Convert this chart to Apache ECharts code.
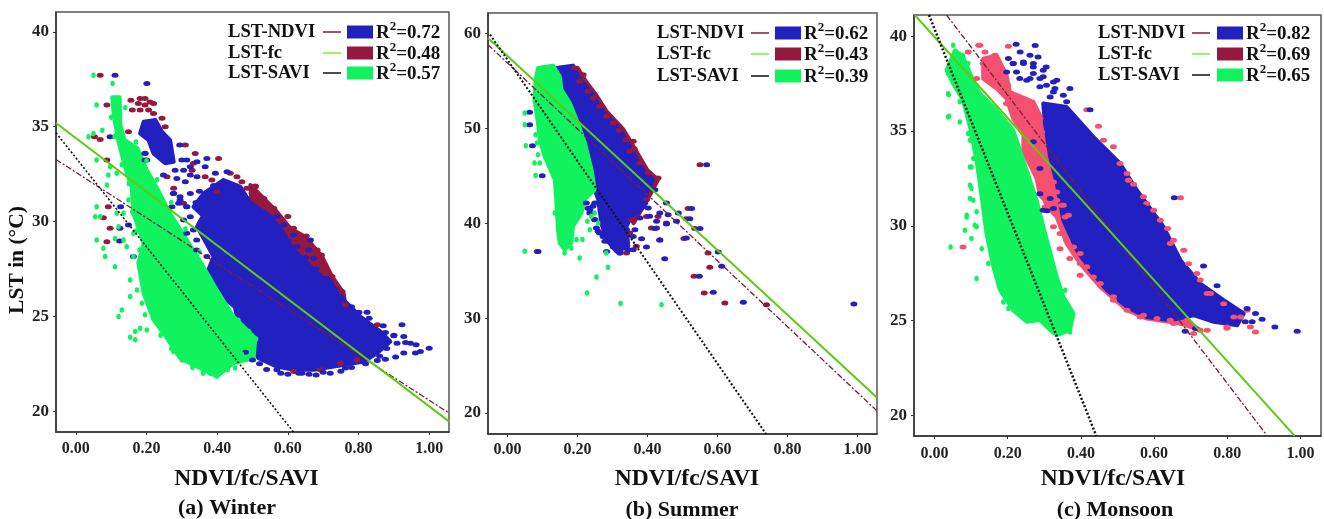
<!DOCTYPE html>
<html><head><meta charset="utf-8">
<style>html,body{margin:0;padding:0;background:#fff}#c{width:1324px;height:519px}</style>
<script src="https://cdn.jsdelivr.net/npm/echarts@6/dist/echarts.min.js"></script>
</head><body><div id="c"></div>
<script>
const xTicks=[0,0.2,0.4,0.6,0.8,1.0];
const winterYTicks=[20,25,30,35,40];
const summerYTicks=[20,30,40,50,60];
const monsoonYTicks=[20,25,30,35,40];
const captions=['(a) Winter','(b) Summer','(c) Monsoon'];
const legendNames=['LST-NDVI','LST-fc','LST-SAVI'];
const winterR2=['0.72','0.48','0.57'];
const summerR2=['0.62','0.43','0.39'];
const monsoonR2=['0.82','0.69','0.65'];

// ---------- Winter ----------
const winterNdviLine=[[-0.056,33.27],[1.056,19.9]];
const winterFcLine=[[-0.056,35.2],[1.056,19.46]];
const winterSaviLine=[[-0.056,34.68],[0.616,18.9]];
const winterNdviBody=[[.192,35.26],[.225,35.35],[.244,34.73],[.267,34.29],[.277,33.15],[.253,33.07],[.22,33.59],[.206,34.29],[.182,34.65]];
const winterNdviBody2=[[.333,30.78],[.362,31.48],[.418,32.19],[.465,31.84],[.494,31.0],[.55,30.3],[.588,29.38],[.617,28.5],[.673,27.45],[.73,26.57],[.758,25.87],[.805,24.99],[.862,24.2],[.89,23.67],[.853,23.06],[.815,22.62],[.73,22.35],[.673,22.18],[.617,22.18],[.569,22.35],[.517,22.79],[.46,24.6],[.45,25.5],[.39,26.4],[.375,27.44],[.39,28.15],[.365,29.0],[.343,29.73],[.36,30.3]];
const winterNdviDots=[[.111,37.72],[.201,37.28],[.294,34.03],[.3,33.24],[.314,33.24],[.281,32.71],[.305,32.71],[.324,32.89],[.343,33.15],[.371,33.33],[.366,32.89],[.324,32.45],[.343,32.36],[.286,32.27],[.31,32.1],[.277,31.48],[.295,31.31],[.324,31.48],[.291,30.96],[.314,30.78],[.248,32.45],[.201,33.24],[.196,33.59],[.395,32.54],[.428,32.63],[.824,25.22],[.801,25.22],[.923,24.55],[.876,24.15],[.9,23.97],[.928,23.94],[.933,23.62],[.909,23.58],[.947,23.58],[.963,23.5],[1.0,23.32],[.975,23.14],[.961,23.06],[.928,23.06],[.905,22.85],[.876,22.74],[.853,22.67],[.763,22.27],[.631,22.0],[.569,22.18],[.659,28.5],[.673,28.06],[.626,28.68],[.588,29.82],[.569,30.26],[.711,27.01],[.616,29.29],[.664,29.03],[.097,34.47],[.127,30.78],[.125,29.64],[.124,28.97],[.149,29.82],[.163,28.15],[.196,33.6],[.196,33.24],[.314,29.38],[.342,29.03],[.342,28.5],[.314,30.78],[.295,31.13],[.276,31.48],[.272,30.78],[.324,30.25],[.305,30.08],[.333,29.55],[.361,29.38],[.371,28.15],[.52,22.5],[.54,22.2],[.6,21.95],[.64,22.0],[.66,21.95],[.72,22.0],[.75,22.1],[.48,23.1],[.5,22.7],[.58,22.0],[.68,21.9],[.7,22.05],[.78,22.3],[.82,22.5],[.86,22.9],[.88,23.3],[.9,24.0],[.87,24.5],[.83,24.9],[.78,25.5],[.75,26.0],[.72,26.8],[.68,27.5],[.65,28.1],[.6,29.0],[.57,29.6],[.53,30.3],[.5,30.8],[.45,31.6],[.42,32.0],[.39,31.9],[.35,31.6],[.34,31.0]];
const winterFcBody=[[.494,31.93],[.532,31.22],[.569,30.52],[.607,29.64],[.649,29.2],[.697,28.15],[.725,27.1],[.758,26.22],[.763,25.52],[.7,26.7],[.6,28],[.5,30]];
const winterFcDots=[[.069,37.72],[.182,36.49],[.196,36.49],[.21,36.31],[.177,36.23],[.196,36.14],[.22,36.23],[.182,35.88],[.206,35.88],[.156,36.4],[.16,35.88],[.149,34.73],[.244,35.44],[.22,35.7],[.253,35.0],[.31,34.03],[.338,33.59],[.404,33.33],[.333,33.07],[.329,32.71],[.385,32.19],[.437,32.54],[.456,32.36],[.47,32.1],[.508,31.84],[.484,31.75],[.513,31.31],[.399,31.57],[.366,32.36],[.305,30.96],[.277,31.75],[.258,32.36],[.508,31.87],[.499,31.49],[.532,31.22],[.56,30.7],[.6,30.26],[.616,29.64],[.652,29.24],[.635,29.03],[.683,28.5],[.695,28.24],[.703,27.71],[.725,27.1],[.753,26.31],[.763,25.6],[.749,22.53],[.617,22.09],[.692,22.18],[.796,22.71],[.853,24.55],[.088,36.14],[.069,34.33],[.053,34.47],[.088,33.24],[.092,30.78],[.078,30.2],[.088,28.94],[.097,29.64]];
const winterSaviBody=[[.103,36.55],[.124,36.55],[.126,35.1],[.138,34.3],[.175,33.85],[.201,32.71],[.229,31.8],[.267,30.4],[.314,29.03],[.361,27.62],[.399,26.39],[.446,24.99],[.508,23.85],[.503,22.79],[.446,22.53],[.399,21.83],[.361,22.18],[.295,22.79],[.258,23.85],[.22,24.81],[.192,26.22],[.177,27.8],[.192,28.85],[.163,30.43],[.158,31.8],[.139,32.9],[.12,34.29],[.108,35.52]];
const winterSaviDots=[[.05,37.72],[.104,37.28],[.059,36.14],[.036,34.47],[.05,34.64],[.075,34.82],[.059,33.24],[.092,32.45],[.088,31.92],[.059,30.78],[.055,30.25],[.069,30.25],[.059,29.03],[.078,28.59],[.083,28.15],[.111,27.62],[.154,26.92],[.173,26.39],[.154,26.04],[.187,25.69],[.196,25.08],[.13,25.34],[.121,24.99],[.182,24.37],[.201,24.28],[.168,24.2],[.154,23.9],[.168,23.76],[.111,29.11],[.135,29.03],[.144,28.67],[.163,28.15],[.116,30.43],[.163,29.38],[.276,23.14],[.451,22.27],[.097,32.89],[.116,32.54],[.149,31.13],[.135,30.43],[.121,29.73],[.158,32.89],[.149,33.77],[.163,32.19],[.47,23.0],[.5,23.2],[.51,23.8],[.49,24.2],[.46,24.8],[.42,25.6],[.38,22.0],[.4,21.85],[.36,22.0],[.33,22.3],[.3,22.7],[.27,23.3],[.24,24.0],[.43,22.2],[.46,22.6],[.2,26.5],[.19,27.5],[.18,28.5],[.17,29.5],[.16,30.5],[.15,32],[.13,33],[.11,34.5],[.1,35.5],[.14,36.0],[.17,34.2],[.2,33.2],[.23,32.2],[.27,31],[.31,29.6],[.35,28.4]];

// ---------- Summer ----------
const summerNdviLine=[[-0.056,58.84],[1.055,20.25]];
const summerFcLine=[[-0.056,59.54],[1.055,21.65]];
const summerSaviLine=[[-0.05,59.9],[0.739,17.78]];
const summerNdviBody=[[.139,56.38],[.187,56.63],[.211,54.97],[.24,53.74],[.273,51.81],[.321,49.88],[.349,48.12],[.387,45.66],[.416,44.6],[.397,43.2],[.392,41.79],[.354,40.73],[.34,39.68],[.345,37.57],[.311,37.04],[.283,38.27],[.268,40.0],[.259,42.49],[.249,43.55],[.24,45.66],[.221,48.47],[.201,50.58],[.178,52.69],[.154,54.1]];
const summerNdviDots=[[.569,46.18],[.063,51.7],[.063,50.4],[.071,48.19],[.099,45.02],[.087,37.04],[.526,41.55],[.521,40.49],[.488,41.09],[.483,40.21],[.55,39.44],[.511,38.45],[.454,42.14],[.459,40.91],[.435,41.09],[.426,40.21],[.454,39.93],[.421,39.44],[.435,38.21],[.449,36.27],[.406,40.74],[.383,38.38],[.397,37.5],[.548,34.41],[.588,32.72],[.602,36.98],[.612,35.47],[.674,31.67],[.99,31.5],[.263,38.98],[.278,38.1],[.302,37.5],[.321,36.87],[.344,37.22],[.359,37.22],[.34,39.33],[.249,42.14],[.235,41.44],[.249,40.39],[.225,42.14],[.235,41.09],[.249,40.38],[.259,39.15],[.273,38.62],[.287,38.1],[.283,37.04],[.244,41.79],[.268,41.26],[.254,39.5],[.23,41.6],[.321,37.04],[.302,38.98],[.406,43.72],[.421,43.55],[.392,42.14],[.402,41.61],[.368,41.09],[.378,40.56],[.364,39.33],[.359,38.62]];
const summerFcBody=[[.2,56.4],[.225,54.9],[.25,53.7],[.283,51.8],[.331,49.9],[.36,48.1],[.4,45.6],[.43,44.6],[.4,42.5],[.36,40],[.3,45],[.2,52]];
const summerFcDots=[[.192,56.38],[.216,55.68],[.206,54.97],[.23,53.92],[.246,53.22],[.263,52.34],[.283,51.28],[.302,50.58],[.319,49.81],[.338,48.82],[.359,48.65],[.362,47.87],[.349,47.59],[.378,46.36],[.402,45.3],[.43,44.78],[.55,46.18],[.397,42.49],[.354,40.38],[.349,38.98],[.34,36.87],[.368,37.57],[.321,36.87],[.43,40.73],[.426,39.5],[.454,40.03],[.397,40.73],[.411,39.5],[.435,38.27],[.516,41.55],[.511,40.49],[.535,39.44],[.504,38.4],[.533,34.41],[.562,32.65],[.573,36.87],[.578,35.36],[.621,31.6],[.74,31.42],[.085,37.04]];
const summerSaviBody=[[.087,56.38],[.13,56.63],[.149,55.5],[.154,54.1],[.178,52.69],[.201,50.58],[.221,48.47],[.24,45.66],[.249,43.55],[.22,42.49],[.211,41.09],[.187,39.68],[.182,37.92],[.163,37.22],[.149,37.92],[.144,39.33],[.139,42.49],[.135,44.6],[.106,47.06],[.092,48.82],[.087,50.58],[.077,53.04],[.08,55.15]];
const summerSaviDots=[[.049,51.63],[.049,50.4],[.052,48.19],[.08,49.35],[.084,48.47],[.087,47.24],[.077,46.36],[.092,46.36],[.08,45.03],[.135,41.09],[.197,38.28],[.214,38.28],[.206,36.34],[.228,40.21],[.249,41.09],[.259,40.04],[.282,36.87],[.287,35.36],[.254,34.34],[.227,32.65],[.323,31.53],[.44,31.42],[.049,37.05],[.163,36.87],[.182,37.4],[.235,39.33],[.239,40.74]];

// ---------- Monsoon ----------
const monsoonNdviLine=[[0.033,41.12],[0.909,18.93]];
const monsoonFcLine=[[-0.054,41.12],[0.984,18.93]];
const monsoonSaviLine=[[-0.015,41.12],[0.442,18.93]];
const monsoonNdviBody=[[.297,36.45],[.361,36.27],[.434,34.69],[.507,33.29],[.553,31.88],[.626,29.95],[.672,28.19],[.726,26.96],[.79,26.08],[.845,25.38],[.827,24.76],[.763,24.94],[.708,25.29],[.644,25.02],[.58,25.2],[.526,25.73],[.471,26.61],[.425,27.66],[.389,28.72],[.352,30.3],[.334,32.23],[.316,33.64],[.302,35.4]];
const monsoonNdviDots=[[.223,39.58],[.275,39.51],[.202,38.82],[.234,39.17],[.261,39.0],[.283,38.91],[.305,38.38],[.215,38.56],[.243,38.56],[.27,38.56],[.197,38.12],[.224,38.12],[.27,38.03],[.297,37.86],[.334,37.68],[.37,37.24],[.329,37.24],[.352,36.89],[.252,37.68],[.288,37.33],[.316,36.8],[.425,36.13],[.655,31.48],[.991,24.44],[.93,24.67],[.895,25.08],[.877,25.38],[.854,25.64],[.849,24.94],[.868,24.94],[.735,27.89],[.772,26.84],[.685,24.44],[.713,24.59],[.288,31.7],[.307,30.8],[.571,31.0],[.27,34.43],[.288,33.02],[.316,31.44],[.297,30.82],[.325,30.91],[.243,38.64],[.27,38.38],[.297,38.2],[.325,37.59],[.261,37.77],[.233,37.77],[.215,38.56],[.288,37.77],[.325,37.06],[.306,37.41],[.361,36.54]];
const monsoonFcBody=[[.133,38.82],[.17,38.99],[.197,37.94],[.206,37.06],[.27,36.54],[.316,34.78],[.361,32.14],[.398,29.5],[.334,30.74],[.288,31.61],[.279,32.5],[.243,33.9],[.243,34.78],[.215,35.66],[.197,36.71],[.17,37.24],[.133,37.77]];
const monsoonFcBody2=[[.297,33.11],[.343,32.76],[.37,31.35],[.398,29.24],[.471,27.14],[.544,25.73],[.672,25.2],[.726,24.5],[.672,24.85],[.58,25.11],[.526,25.55],[.453,26.78],[.398,28.01],[.361,29.07],[.334,30.47],[.307,31.0],[.288,32.06],[.27,32.93]];
const monsoonFcDots=[[.202,39.47],[.121,39.53],[.092,39.17],[.138,39.17],[.165,39.0],[.416,36.13],[.078,28.89],[.672,31.48],[.877,24.41],[.863,24.67],[.799,24.67],[.745,24.5],[.708,24.32],[.676,24.85],[.644,25.02],[.571,25.29],[.398,27.4],[.37,28.28],[.343,28.8],[.448,35.25],[.599,30.83],[.637,29.86],[.644,29.07],[.681,28.72],[.717,27.49],[.745,26.43],[.836,25.2],[.854,25.55],[.398,28.54],[.434,27.31],[.489,26.26],[.544,32.2],[.58,31.18],[.526,32.76],[.489,34.17],[.507,33.29],[.124,39.52],[.142,38.47],[.174,37.41],[.2,37.41],[.197,36.45],[.233,35.83],[.261,35.13],[.288,33.02],[.297,31.61],[.316,31.09],[.352,31.09],[.357,30.47],[.224,36.36],[.133,38.56],[.151,38.29],[.165,37.94],[.138,38.12],[.115,37.77],[.183,37.5],[.211,36.8],[.233,36.71],[.247,36.36],[.275,36.01],[.288,35.66],[.252,35.66],[.238,35.92],[.265,35.3],[.293,34.95],[.247,34.07],[.261,33.72],[.279,33.55],[.297,32.67],[.325,32.32],[.334,31.79],[.306,31.97],[.348,31.09],[.366,30.56],[.334,31.35],[.307,31.53],[.302,31.0],[.325,29.95],[.343,29.6],[.361,29.24],[.38,28.89],[.398,28.01],[.416,27.84],[.453,26.96],[.489,26.08],[.526,25.55],[.562,25.2],[.608,25.11],[.653,24.85],[.69,25.03],[.726,24.5],[.799,24.6],[.818,25.2],[.462,34.52],[.53,32.4],[.571,31.53],[.617,30.3],[.653,29.24],[.694,28.0],[.726,27.14],[.754,26.43],[.79,25.9]];
const monsoonSaviBody=[[.033,38.21],[.056,39.26],[.078,38.91],[.097,38.03],[.124,36.98],[.17,36.1],[.215,35.04],[.252,32.93],[.279,31.35],[.307,29.24],[.334,27.31],[.352,26.26],[.38,25.38],[.37,24.5],[.334,24.24],[.316,24.5],[.288,25.03],[.252,24.94],[.215,25.55],[.179,26.61],[.161,27.84],[.142,29.6],[.129,31.53],[.115,33.46],[.097,35.22],[.078,36.63],[.051,37.5]];
const monsoonSaviDots=[[.039,36.92],[.04,35.78],[.044,28.89],[.115,27.22],[.101,33.11],[.097,32.14],[.106,31.35],[.088,30.47],[.115,29.95],[.101,29.33],[.129,28.8],[.147,28.01],[.188,25.99],[.202,25.64],[.357,26.61],[.37,24.41],[.097,34.52],[.092,34.87],[.037,38.03],[.051,39.52],[.078,38.99],[.092,38.56],[.06,37.77],[.069,36.54],[.037,36.97],[.037,35.74],[.069,35.48],[.101,34.78],[.097,33.11],[.106,33.55],[.101,31.97],[.097,31.44],[.088,30.56],[.115,30.74],[.11,30.03],[.083,29.77]];

const SERIF='"Liberation Serif","Times New Roman",serif';
const BLUE='#2320c0',MAROON='#96183e',PINK='#f4506f',GREEN='#10f25e';
const LINE_NDVI='#7a1c3c',LINE_FC='#5ccb12',LINE_SAVI='#111';

const panels=[
 {grid:{left:56,top:12,width:393,height:420},yMin:18.9,yMax:41.05,yTicks:winterYTicks,
  ndviBodies:[winterNdviBody2,winterNdviBody],ndviDots:winterNdviDots,fcBodies:[winterFcBody],fcDots:winterFcDots,saviBodies:[winterSaviBody],saviDots:winterSaviDots,
  lines:[winterNdviLine,winterFcLine,winterSaviLine],fcColor:MAROON,savW:1.6,r2:winterR2,
  legendX:[228,323,347,376],legendY:[32,53,73],titlePad:[0,12,0,0],nameGap:35,yName:'LST in (°C)',labelMargin:9,capX:227,capY:508},
 {grid:{left:488,top:13,width:389,height:421},yMin:17.78,yMax:62.18,yTicks:summerYTicks,
  ndviBodies:[summerNdviBody],ndviDots:summerNdviDots,fcBodies:[summerFcBody],fcDots:summerFcDots,saviBodies:[summerSaviBody],saviDots:summerSaviDots,
  lines:[summerNdviLine,summerFcLine,summerSaviLine],fcColor:MAROON,savW:2,r2:summerR2,
  legendX:[657,751,775,804],legendY:[33,54,76],titlePad:[0,0,0,9],nameGap:33,yName:'',labelMargin:8,capX:682,capY:510},
 {grid:{left:914,top:15,width:407,height:421},yMin:18.92,yMax:41.12,yTicks:monsoonYTicks,
  ndviBodies:[monsoonNdviBody],ndviDots:monsoonNdviDots,fcBodies:[monsoonFcBody,monsoonFcBody2],fcDots:monsoonFcDots,saviBodies:[monsoonSaviBody],saviDots:monsoonSaviDots,
  lines:[monsoonNdviLine,monsoonFcLine,monsoonSaviLine],fcColor:PINK,savW:2.5,r2:monsoonR2,
  legendX:[1098,1192,1217,1246],legendY:[33,54,75],titlePad:[0,9,0,0],nameGap:31,yName:'',labelMargin:10,capX:1115,capY:510}
];

const grids=[],xAxes=[],yAxes=[],series=[],graphics=[];
function body(i,points,color){
  series.push({type:'custom',xAxisIndex:i,yAxisIndex:i,coordinateSystem:'cartesian2d',silent:true,data:points,
    encode:{x:0,y:1},
    renderItem:function(params,api){
      if(params.dataIndex!==0) return null;
      return {type:'polygon',shape:{points:points.map(p=>api.coord(p))},style:{fill:color,stroke:color,lineWidth:4,lineJoin:'round'}};
    }});
}
function dots(i,points,color,size){
  series.push({type:'scatter',xAxisIndex:i,yAxisIndex:i,silent:true,data:points,symbol:'circle',symbolSize:size,
    itemStyle:{color:color,opacity:1},animation:false});
}
function trend(i,points,color,width,type){
  series.push({type:'line',xAxisIndex:i,yAxisIndex:i,silent:true,data:points,symbol:'none',
    lineStyle:{color:color,width:width,type:type},animation:false});
}
panels.forEach((p,i)=>{
  grids.push(Object.assign({show:true,borderColor:'#555',borderWidth:1.5,backgroundColor:'#fff'},p.grid));
  xAxes.push({type:'value',gridIndex:i,min:-0.056,max:1.056,splitLine:{show:false},
    name:'NDVI/fc/SAVI',nameLocation:'middle',nameGap:p.nameGap,
    nameTextStyle:{fontFamily:SERIF,fontWeight:'bold',fontSize:23.5,color:'#111',padding:p.titlePad},
    axisLine:{onZero:false,lineStyle:{color:'#333',width:1.5}},axisTick:{customValues:xTicks,length:3,lineStyle:{color:'#333'}},
    axisLabel:{customValues:xTicks,margin:p.labelMargin,fontFamily:SERIF,fontWeight:'bold',fontSize:16,color:'#222',formatter:v=>Number(v).toFixed(2)}});
  yAxes.push({type:'value',gridIndex:i,min:p.yMin,max:p.yMax,splitLine:{show:false},
    name:p.yName,nameLocation:'middle',nameGap:27,
    nameTextStyle:{fontFamily:SERIF,fontWeight:'bold',fontSize:21.5,color:'#111',padding:[0,76,0,0]},
    axisLine:{show:true,onZero:false,lineStyle:{color:'#333',width:1.5}},axisTick:{show:true,customValues:p.yTicks,length:3,lineStyle:{color:'#333'}},
    axisLabel:{customValues:p.yTicks,margin:7,fontFamily:SERIF,fontWeight:'bold',fontSize:17,color:'#222'}});
  p.fcBodies.forEach(b=>body(i,b,p.fcColor));
  dots(i,p.fcDots,p.fcColor,[7,5]);
  p.ndviBodies.forEach(b=>body(i,b,BLUE));
  dots(i,p.ndviDots,BLUE,[7,5]);
  p.saviBodies.forEach(b=>body(i,b,GREEN));
  dots(i,p.saviDots,GREEN,[4.5,5.5]);
  trend(i,p.lines[0],LINE_NDVI,1.3,[6,2,2,2]);
  trend(i,p.lines[1],LINE_FC,2,'solid');
  trend(i,p.lines[2],LINE_SAVI,p.savW,[2,2]);
  const [tx,lx,rx,sx]=p.legendX;
  const lineCols=[LINE_NDVI,'#7df02e','#111'], rectCols=[BLUE,MAROON,GREEN];
  legendNames.forEach((n,k)=>{
    const y=p.legendY[k];
    graphics.push({type:'text',left:tx,top:y-9,style:{text:n,fontFamily:SERIF,fontWeight:'bold',fontSize:18.6,fill:'#111'}});
    graphics.push({type:'line',shape:{x1:lx,y1:y,x2:lx+18,y2:y},style:{stroke:lineCols[k],lineWidth:1.5}});
    graphics.push({type:'rect',shape:{x:rx,y:y-6.5,width:26,height:13},style:{fill:rectCols[k]}});
    graphics.push({type:'text',left:sx,top:y-12,style:{
      rich:{a:{fontFamily:SERIF,fontWeight:'bold',fontSize:19,fill:'#111',padding:[4,0,0,0]},s:{fontFamily:SERIF,fontWeight:'bold',fontSize:13,fill:'#111',verticalAlign:'top',padding:[0,0,6,0]}},
      text:'{a|R}{s|2}{a|='+p.r2[k]+'}'}});
  });
  graphics.push({type:'text',x:p.capX,y:p.capY,style:{text:captions[i],align:'center',verticalAlign:'middle',fontFamily:SERIF,fontWeight:'bold',fontSize:22,fill:'#111'}});
});
const chart=echarts.init(document.getElementById('c'),null,{renderer:'canvas'});
chart.setOption({animation:false,backgroundColor:'#fff',grid:grids,xAxis:xAxes,yAxis:yAxes,series:series,graphic:graphics});
</script></body></html>
